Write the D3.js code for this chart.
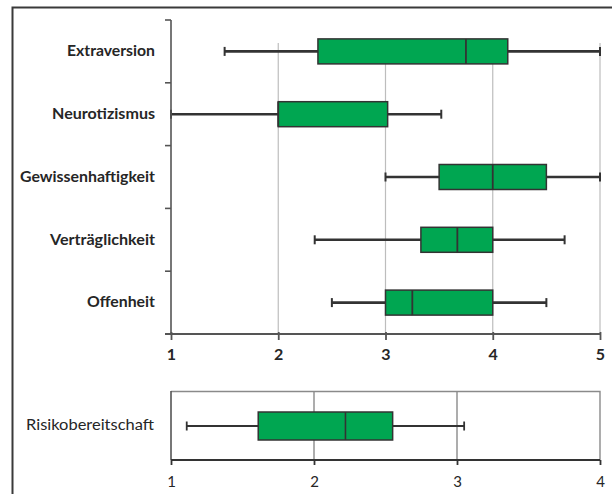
<!DOCTYPE html>
<html>
<head>
<meta charset="utf-8">
<script src="https://cdn.jsdelivr.net/npm/d3@7"></script>
<style>
  html, body { margin: 0; padding: 0; background: #fff; }
  svg { display: block; }
</style>
</head>
<body>
<svg id="chart" width="612" height="494"></svg>
<script>
// Big Five personality traits (scale 1–5)
const traits = ["Extraversion", "Neurotizismus", "Gewissenhaftigkeit", "Verträglichkeit", "Offenheit"];
const traitMin    = [1.50, 1.00, 3.00, 2.34, 2.50];
const traitQ1     = [2.37, 2.00, 3.50, 3.33, 3.00];
const traitMedian = [3.75, 2.00, 4.00, 3.67, 3.25];
const traitQ3     = [4.14, 3.02, 4.50, 4.00, 4.00];
const traitMax    = [5.00, 3.52, 5.00, 4.67, 4.50];
const traitTicks  = [1, 2, 3, 4, 5];

// Risk propensity (scale 1–4)
const riskLabel  = ["Risikobereitschaft"];
const riskMin    = [1.11];
const riskQ1     = [1.61];
const riskMedian = [2.22];
const riskQ3     = [2.55];
const riskMax    = [3.05];
const riskTicks  = [1, 2, 3, 4];

const GREEN = "#00a651";
const DARK = "#333";
const svg = d3.select("#chart");
const font = "Lato, 'Open Sans', sans-serif";

// outer frame (left and top edges)
svg.append("path")
  .attr("d", "M12.5,494 V7.5 H612")
  .attr("fill", "none").attr("stroke", "#3a3a3a").attr("stroke-width", 2);

function rows(labels, mn, q1, md, q3, mx) {
  return labels.map((k, i) => ({ k, mn: mn[i], q1: q1[i], md: md[i], q3: q3[i], mx: mx[i] }));
}

// ---------- upper panel ----------
const xTop = d3.scaleLinear().domain([1, 5]).range([171, 600]);
const yTop = d3.scaleBand().domain(traits).range([20, 334]).padding(0);
const topRows = rows(traits, traitMin, traitQ1, traitMedian, traitQ3, traitMax);
const gTop = svg.append("g");

// gridlines
gTop.append("g").selectAll("line").data(traitTicks.slice(1)).join("line")
  .attr("x1", d => xTop(d)).attr("x2", d => xTop(d))
  .attr("y1", 43).attr("y2", 334)
  .attr("stroke", "#bdbdbd").attr("stroke-width", 1.2);

const bh = 25;
const rowG = gTop.append("g").selectAll("g").data(topRows).join("g")
  .attr("transform", d => `translate(0,${yTop(d.k) + yTop.bandwidth() / 2})`);

rowG.append("line")
  .attr("x1", d => xTop(d.mn)).attr("x2", d => xTop(d.mx))
  .attr("stroke", DARK).attr("stroke-width", 2.6);
rowG.selectAll("line.cap").data(d => [d.mn, d.mx]).join("line").attr("class", "cap")
  .attr("x1", v => xTop(v)).attr("x2", v => xTop(v))
  .attr("y1", -4.5).attr("y2", 4.5)
  .attr("stroke", DARK).attr("stroke-width", 2);
rowG.append("rect")
  .attr("x", d => xTop(d.q1)).attr("width", d => xTop(d.q3) - xTop(d.q1))
  .attr("y", -bh / 2).attr("height", bh)
  .attr("fill", GREEN).attr("stroke", DARK).attr("stroke-width", 1.5);
rowG.append("line")
  .attr("x1", d => xTop(d.md)).attr("x2", d => xTop(d.md))
  .attr("y1", -bh / 2).attr("y2", bh / 2)
  .attr("stroke", DARK).attr("stroke-width", 1.8);

// axes
const yAxisTop = gTop.append("g").attr("transform", "translate(171,0)")
  .call(d3.axisLeft(yTop).tickSize(0).tickFormat(""));
yAxisTop.select(".domain").remove();
gTop.append("line").attr("x1", 171).attr("x2", 171).attr("y1", 20).attr("y2", 334)
  .attr("stroke", "#555").attr("stroke-width", 1.6);
gTop.append("g").selectAll("line").data([20].concat(traits.map(t => yTop(t) + yTop.bandwidth())))
  .join("line")
  .attr("x1", 165).attr("x2", 171).attr("y1", d => d).attr("y2", d => d)
  .attr("stroke", "#555").attr("stroke-width", 1.6);

const labelWidths = [88, 103, 135, 105, 68];
gTop.append("g").selectAll("text").data(traits).join("text")
  .attr("x", 155).attr("y", d => yTop(d) + yTop.bandwidth() / 2 + 1)
  .attr("text-anchor", "end").attr("dominant-baseline", "middle")
  .attr("font-family", font).attr("font-weight", 700).attr("font-size", 15)
  .attr("fill", "#262626")
  .attr("textLength", (d, i) => labelWidths[i]).attr("lengthAdjust", "spacingAndGlyphs")
  .text(d => d);

const xAxisTop = gTop.append("g").attr("transform", "translate(0,334)")
  .call(d3.axisBottom(xTop).tickValues(traitTicks).tickFormat(d3.format("d")).tickSize(6).tickPadding(9));
xAxisTop.select(".domain").attr("d", "M165,0H600").attr("stroke", "#555").attr("stroke-width", 1.8);
xAxisTop.selectAll(".tick line").attr("y1", -2).attr("stroke", "#555").attr("stroke-width", 1.8);
xAxisTop.selectAll(".tick text")
  .attr("font-family", font).attr("font-weight", 700).attr("font-size", 16).attr("fill", "#262626");

// ---------- lower panel ----------
const xBot = d3.scaleLinear().domain([1, 4]).range([171, 600]);
const yBot = d3.scaleBand().domain(riskLabel).range([391, 460]).padding(0);
const botRows = rows(riskLabel, riskMin, riskQ1, riskMedian, riskQ3, riskMax);
const gBot = svg.append("g");

// plot frame
gBot.append("path").attr("d", "M171,391.5 H600 V460")
  .attr("fill", "none").attr("stroke", "#8a8a8a").attr("stroke-width", 1.4);
gBot.append("line").attr("x1", 171).attr("x2", 171).attr("y1", 391).attr("y2", 460)
  .attr("stroke", "#555").attr("stroke-width", 1.6);
gBot.append("g").selectAll("line").data(riskTicks.slice(1, -1)).join("line")
  .attr("x1", d => xBot(d)).attr("x2", d => xBot(d)).attr("y1", 391).attr("y2", 460)
  .attr("stroke", "#8a8a8a").attr("stroke-width", 1.4);

const bh2 = 28;
const rowB = gBot.append("g").selectAll("g").data(botRows).join("g")
  .attr("transform", d => `translate(0,${yBot(d.k) + yBot.bandwidth() / 2 + 0.5})`);
rowB.append("line")
  .attr("x1", d => xBot(d.mn)).attr("x2", d => xBot(d.mx))
  .attr("stroke", DARK).attr("stroke-width", 1.8);
rowB.selectAll("line.cap").data(d => [d.mn, d.mx]).join("line").attr("class", "cap")
  .attr("x1", v => xBot(v)).attr("x2", v => xBot(v))
  .attr("y1", -4.5).attr("y2", 4.5)
  .attr("stroke", DARK).attr("stroke-width", 1.8);
rowB.append("rect")
  .attr("x", d => xBot(d.q1)).attr("width", d => xBot(d.q3) - xBot(d.q1))
  .attr("y", -bh2 / 2).attr("height", bh2)
  .attr("fill", GREEN).attr("stroke", DARK).attr("stroke-width", 1.5);
rowB.append("line")
  .attr("x1", d => xBot(d.md)).attr("x2", d => xBot(d.md))
  .attr("y1", -bh2 / 2).attr("y2", bh2 / 2)
  .attr("stroke", DARK).attr("stroke-width", 1.6);

gBot.append("text")
  .attr("x", 154).attr("y", yBot(riskLabel[0]) + yBot.bandwidth() / 2 + 1)
  .attr("text-anchor", "end").attr("dominant-baseline", "middle")
  .attr("font-family", font).attr("font-weight", 400).attr("font-size", 14.5)
  .attr("fill", "#262626")
  .attr("textLength", 128).attr("lengthAdjust", "spacingAndGlyphs")
  .text(riskLabel[0]);

const xAxisBot = gBot.append("g").attr("transform", "translate(0,460)")
  .call(d3.axisBottom(xBot).tickValues(riskTicks).tickFormat(d3.format("d")).tickSize(5).tickPadding(11));
xAxisBot.select(".domain").attr("d", "M171,0H600").attr("stroke", "#333").attr("stroke-width", 1.8);
xAxisBot.selectAll(".tick line").attr("stroke", "#333").attr("stroke-width", 1.8);
xAxisBot.selectAll(".tick text")
  .attr("font-family", font).attr("font-weight", 400).attr("font-size", 15).attr("fill", "#262626");
</script>
</body>
</html>
